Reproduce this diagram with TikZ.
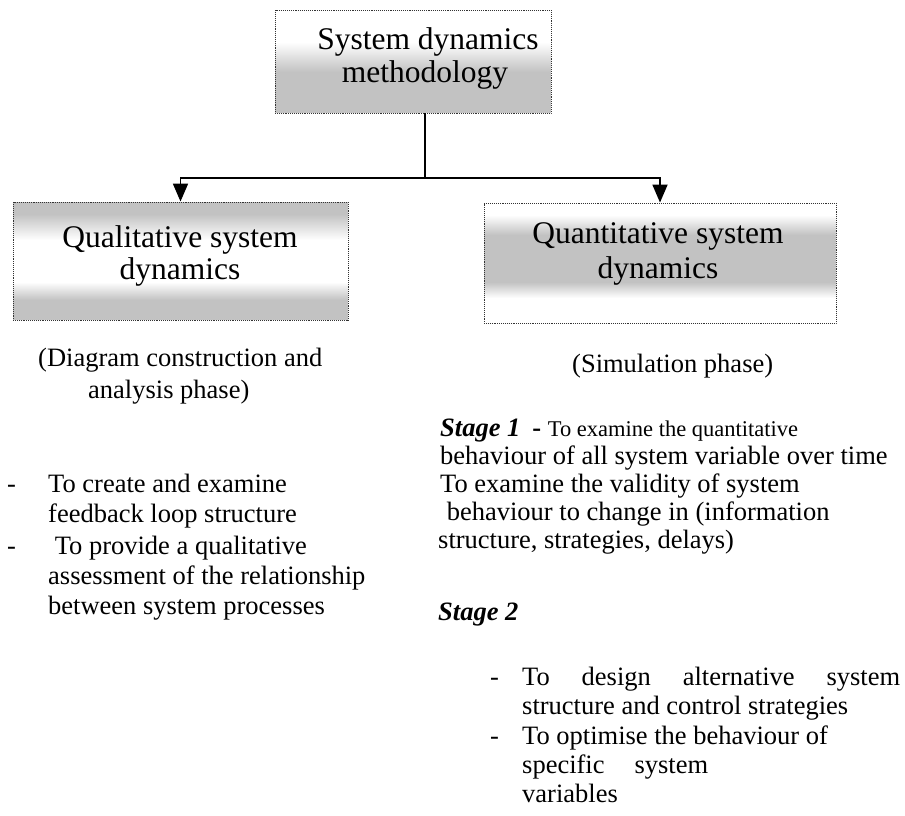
\documentclass[tikz,border=0pt]{standalone}
\usepackage{fontspec}
\setmainfont{Liberation Serif}
\usetikzlibrary{arrows.meta}
\definecolor{boxgray}{gray}{0.76}
\begin{document}
\begin{tikzpicture}[x=1pt,y=-1pt,
  frame/.style={draw=black!80, densely dotted, line width=0.9pt, rectangle, inner sep=0pt},
  title/.style={font=\fontsize{31.5}{34}\selectfont, anchor=base, inner sep=0pt},
  body/.style={font=\fontsize{26.5}{30}\selectfont, anchor=base west, inner sep=0pt},
  link/.style={line width=1.8pt},
  arr/.style={link, -{Triangle[width=15pt,length=18pt]}}]

% page
\fill[white] (0,0) rectangle (905,816);
\useasboundingbox (0,0) rectangle (905,816);

% shaded backgrounds of the three boxes
\shade[top color=white, bottom color=boxgray] (275,42) rectangle (551,72);
\fill[boxgray] (275,72) rectangle (551,113);

\fill[boxgray] (13,202) rectangle (348,214);
\shade[top color=boxgray, bottom color=white] (13,214) rectangle (348,240);
\shade[top color=white, bottom color=boxgray] (13,282) rectangle (348,300);
\fill[boxgray] (13,300) rectangle (348,320);

\shade[top color=white, bottom color=boxgray] (484,215) rectangle (836,235);
\fill[boxgray] (484,235) rectangle (836,282);
\shade[top color=boxgray, bottom color=white] (484,282) rectangle (836,298);

% box frames
\node[frame, minimum width=276pt, minimum height=103pt] (top) at (413,61.5) {};
\node[frame, minimum width=335pt, minimum height=118pt] (qual) at (180.5,261) {};
\node[frame, minimum width=352pt, minimum height=120pt] (quan) at (660,263) {};

% box titles
\node[title] (t1) at (428,50) {System dynamics};
\node[title] (t2) at (425,83) {methodology};
\node[title] (q1) at (180,247) {Qualitative system};
\node[title] (q2) at (180,279) {dynamics};
\node[title] (n1) at (658,243) {Quantitative system};
\node[title] (n2) at (658,278) {dynamics};

% connectors
\coordinate (jn) at (425,178);
\draw[link] (jn |- top.south) -- (jn);
\draw[arr] (jn) -| (qual.north);
\draw[arr] (jn) -| (quan.north);

% left column
\node[body] (lp1) at (38,366) {(Diagram construction and};
\node[body] (lp2) at (88,398) {analysis phase)};
\node[body] (ld1) at (7,492) {-};
\node[body] (la1) at (48,492) {To create and examine};
\node[body] (la2) at (48,522) {feedback loop structure};
\node[body] (ld2) at (7,554) {-};
\node[body] (lb1) at (48,554) {\ To provide a qualitative};
\node[body] (lb2) at (48,584) {assessment of the relationship};
\node[body] (lb3) at (48,614) {between system processes};

% right column
\node[body] (rp) at (572,372) {(Simulation phase)};
\node[body] (s1) at (440,436) {\textbf{\textit{Stage 1}}\hspace{12pt}\textbf{-} {\fontsize{22.5}{26}\selectfont To examine the quantitative}};
\node[body] (r2) at (440,464) {behaviour of all system variable over time};
\node[body] (r3) at (440,492) {To examine the validity of system};
\node[body] (r4) at (440,520) {\ behaviour to change in (information};
\node[body] (r5) at (438,548) {structure, strategies, delays)};
\node[body] (s2) at (438,620) {\textbf{\textit{Stage 2}}};
\node[body] (rd1) at (490,685) {-};
\node[body] (ra1) at (522,685) {\makebox[378pt][s]{To design alternative system}};
\node[body] (ra2) at (522,714) {structure and control strategies};
\node[body] (rd2) at (490,744) {-};
\node[body] (rb1) at (522,744) {To optimise the behaviour of};
\node[body] (rb2) at (522,773) {\makebox[186pt][s]{specific system}};
\node[body] (rb3) at (522,802) {variables};
\end{tikzpicture}
\end{document}
